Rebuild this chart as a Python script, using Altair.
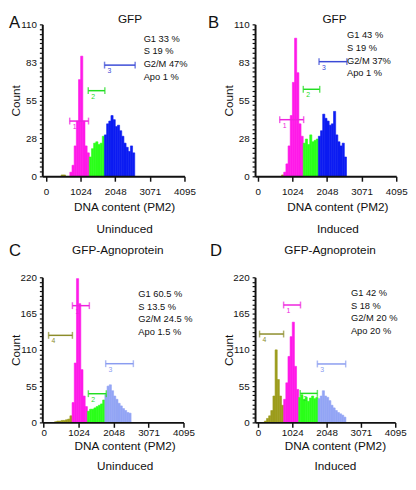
import altair as alt
import pandas as pd

BIN = 64
XMAX = 4095
X_TICKS = [0, 1024, 2048, 3071, 4095]
PHASES = ["Apo", "G1", "S", "G2/M"]

FONT = "Liberation Sans, Arial, Helvetica, sans-serif"
NARROW = "Liberation Sans Narrow, Liberation Sans, Arial, sans-serif"
INK = "#111111"

MAGENTA = "#ff1ae8"
GREEN = "#2bff1a"
BLUE = "#0c1cf2"
LAVENDER = "#93a5f5"
OLIVE = "#9c9c1c"

MK_MAGENTA = "#ee22dd"
MK_GREEN = "#22dd22"
MK_BLUE = "#3a4ad6"
MK_LAV = "#8a9cf0"
MK_OLIVE = "#8c8c2a"

# ---------------- Panel A : GFP, uninduced ----------------
A_APO_START, A_APO = 448, [1, 1]
A_G1_START, A_G1 = 704, [3, 8, 22, 40, 70, 87, 40, 22, 17]
A_S_START, A_S = 1280, [14, 20, 24, 25, 23, 24, 29]
A_G2_START, A_G2 = 1728, [30, 38, 40, 44, 41, 36, 37, 33, 29, 24, 21, 18, 22, 17]
A_STATS = ["G1 33 %", "S 19 %", "G2/M 47%", "Apo 1 %"]
A_MK_LABEL = ["1", "2", "3"]
A_MK_X1 = [700, 1249, 1731]
A_MK_X2 = [1257, 1740, 2636]
A_MK_Y = [40, 62, 80.5]
A_MK_COL = [MK_MAGENTA, MK_GREEN, MK_BLUE]

# ---------------- Panel B : GFP, induced ----------------
B_APO_START, B_APO = 704, [1]
B_G1_START, B_G1 = 768, [3, 9, 22, 44, 68, 100, 75, 38, 29]
B_S_START, B_S = 1344, [24, 27, 23, 30, 25, 26, 27]
B_G2_START, B_G2 = 1792, [29, 33, 45, 42, 40, 37, 38, 47, 30, 25, 22, 24, 14]
B_STATS = ["G1 43 %", "S 19 %", "G2/M 37%", "Apo 1 %"]
B_MK_LABEL = ["1", "2", "3"]
B_MK_X1 = [649, 1346, 1812]
B_MK_X2 = [1357, 1832, 2636]
B_MK_Y = [41, 63, 83]
B_MK_COL = [MK_MAGENTA, MK_GREEN, MK_BLUE]

# ---------------- Panel C : GFP-Agnoprotein, uninduced ----------------
C_APO_START, C_APO = 320, [1, 2, 2, 3, 3, 4, 5, 10]
C_G1_START, C_G1 = 832, [30, 90, 218, 180, 80, 40, 24]
C_S_START, C_S = 1280, [17, 20, 20, 22, 24, 26, 28, 34]
C_G2_START, C_G2 = 1792, [42, 55, 57, 48, 40, 35, 29, 25, 21, 18, 15, 14]
C_STATS = ["G1 60.5 %", "S 13.5 %", "G2/M 24.5 %", "Apo 1.5 %"]
C_MK_LABEL = ["4", "1", "2", "3"]
C_MK_X1 = [143, 842, 1309, 1816]
C_MK_X2 = [842, 1338, 1834, 2627]
C_MK_Y = [132, 177, 43.5, 89]
C_MK_COL = [MK_OLIVE, MK_MAGENTA, MK_GREEN, MK_LAV]

# ---------------- Panel D : GFP-Agnoprotein, induced ----------------
D_APO_START, D_APO = 192, [2, 6, 10, 18, 40, 110, 65, 40, 26]
D_G1_START, D_G1 = 768, [35, 60, 100, 130, 152, 85, 50]
D_S_START, D_S = 1216, [38, 42, 35, 38, 32, 37, 40, 36, 38]
D_G2_START, D_G2 = 1792, [36, 40, 48, 40, 38, 33, 26, 22, 18, 15, 13, 11, 8]
D_STATS = ["G1 42 %", "S 18 %", "G2/M 20 %", "Apo 20 %"]
D_MK_LABEL = ["4", "1", "2", "3"]
D_MK_X1 = [49, 766, 1261, 1773]
D_MK_X2 = [766, 1270, 1773, 2617]
D_MK_Y = [134, 178, 44, 88.6]
D_MK_COL = [MK_OLIVE, MK_MAGENTA, MK_GREEN, MK_LAV]

Y_MAJ_SMALL = [0, 27.5, 55, 82.5, 110]
Y_LAB_SMALL = ["0", "28", "55", "83", "110"]
Y_MAJ_BIG = [0, 55, 110, 165, 220]
Y_LAB_BIG = ["0", "55", "110", "165", "220"]


def make_panel(p):
    rows = []
    for phase, start, counts in p["hist"]:
        for i, c in enumerate(counts):
            rows.append({"x0": start + i * BIN, "x1": start + (i + 1) * BIN,
                         "count": c, "phase": phase})
    hist = pd.DataFrame(rows)
    xs = alt.Scale(domain=[p["xmin"], XMAX], nice=False, zero=False)
    ys = alt.Scale(domain=[0, p["ymax"]], nice=False, zero=True)

    majors = p["ymaj"]
    step = majors[1] / 8
    yvals = [i * step for i in range(int(round(p["ymax"] / step)) + 1)]
    label_expr = " : ".join(
        f"datum.value == {v} ? '{l}'" for v, l in zip(majors, p["ylab"])) + " : ''"

    yaxis = alt.Axis(
        values=yvals, labelExpr=label_expr, labelOverlap=False, grid=False,
        tickSize=3, tickWidth=1.2, tickColor=INK, domainColor=INK, domainWidth=2,
        labelFont=FONT, labelFontSize=10, labelColor=INK, labelPadding=3,
        title="Count", titleFont=FONT, titleFontSize=12, titleFontWeight="normal",
        titleColor=INK, titleX=-27, titleY=p["h"] / 2, titleBaseline="middle",
        titleAlign="center", titleAngle=270, zindex=1)
    xaxis = alt.Axis(
        values=X_TICKS, format="d", grid=False, tickSize=5, tickWidth=1.5,
        tickColor=INK, domainColor=INK, domainWidth=2, labelFont=FONT,
        labelFontSize=10, labelColor=INK, labelPadding=p["lpad"],
        labelOverlap=False, labelFlush=False,
        title=["DNA content (PM2)", p["sub"]], titleFont=FONT, titleFontSize=12,
        titleFontWeight="normal", titleColor=INK, titleLineHeight=p["tlh"],
        titleX=p["w"] / 2 + p["tdx"], titleY=p["ty"], titleBaseline="top",
        titleAlign="center", zindex=1)

    def X(field):
        return alt.X(field, type="quantitative", scale=xs, axis=xaxis)

    def Y(field):
        return alt.Y(field, type="quantitative", scale=ys, axis=yaxis)

    phase_scale = alt.Scale(domain=PHASES, range=p["colors"])
    bars = alt.Chart(hist).mark_rect(strokeWidth=0.6).encode(
        x=X("x0"),
        x2="x1:Q",
        y=Y("count"),
        y2=alt.datum(0),
        color=alt.Color("phase:N", scale=phase_scale, legend=None),
        stroke=alt.Stroke("phase:N", scale=phase_scale, legend=None),
    )

    mk = pd.DataFrame({"label": p["mk_label"], "x1": p["mk_x1"], "x2": p["mk_x2"],
                       "y": p["mk_y"], "col": p["mk_col"]})
    mbase = alt.Chart(mk)
    rule = mbase.mark_rule(strokeWidth=1.5).encode(
        x=X("x1"), x2="x2:Q", y=Y("y"),
        color=alt.Color("col:N", scale=None))
    cap1 = mbase.mark_tick(orient="vertical", size=7, thickness=1.5).encode(
        x=X("x1"), y=Y("y"), color=alt.Color("col:N", scale=None))
    cap2 = mbase.mark_tick(orient="vertical", size=7, thickness=1.5).encode(
        x=X("x2"), y=Y("y"), color=alt.Color("col:N", scale=None))
    labs = mbase.mark_text(fontSize=7, font=FONT, align="left", baseline="top",
                           dx=3, dy=2).encode(
        x=X("x1"), y=Y("y"), text="label:N", color=alt.Color("col:N", scale=None))

    st = alt.Chart(pd.DataFrame({"sx": [p["st_x"]], "sy": [p["st_y"]]})).mark_text(
        align="left", baseline="top", fontSize=9.5, font=NARROW, lineHeight=12.8,
        color=INK).encode(x=X("sx"), y=Y("sy"), text=alt.value(p["stats"]))

    dummy = pd.DataFrame({"d": [0]})
    letter = alt.Chart(dummy).mark_text(
        fontSize=17, font=FONT, align="left", baseline="alphabetic", color=INK).encode(
        x=alt.value(p["lx"]), y=alt.value(p["ly"]), text=alt.value(p["letter"]))
    title = alt.Chart(dummy).mark_text(
        fontSize=12, font=FONT, align="center", baseline="alphabetic", color=INK).encode(
        x=alt.value(p["w"] / 2 + p["tx"]), y=alt.value(p["tyt"]), text=alt.value(p["title"]))

    return alt.layer(bars, rule, cap1, cap2, labs, st, letter, title).properties(
        width=p["w"], height=p["h"])


COL_AB = [OLIVE, MAGENTA, GREEN, BLUE]
COL_CD = [OLIVE, MAGENTA, GREEN, LAVENDER]

pA = dict(hist=[("Apo", A_APO_START, A_APO), ("G1", A_G1_START, A_G1),
                ("S", A_S_START, A_S), ("G2/M", A_G2_START, A_G2)],
          xmin=-110, ymax=110, ymaj=Y_MAJ_SMALL, ylab=Y_LAB_SMALL, w=145, h=155,
          colors=COL_AB, sub="Uninduced", lpad=6, tdx=11, ty=26, tlh=22,
          mk_label=A_MK_LABEL, mk_x1=A_MK_X1, mk_x2=A_MK_X2, mk_y=A_MK_Y, mk_col=A_MK_COL,
          stats=A_STATS, st_x=2887, st_y=103,
          letter="A", lx=-34, ly=4, title="GFP", tx=17, tyt=-1)
pB = dict(hist=[("Apo", B_APO_START, B_APO), ("G1", B_G1_START, B_G1),
                ("S", B_S_START, B_S), ("G2/M", B_G2_START, B_G2)],
          xmin=-80, ymax=110, ymaj=Y_MAJ_SMALL, ylab=Y_LAB_SMALL, w=144, h=155,
          colors=COL_AB, sub="Induced", lpad=6, tdx=12, ty=26, tlh=22,
          mk_label=B_MK_LABEL, mk_x1=B_MK_X1, mk_x2=B_MK_X2, mk_y=B_MK_Y, mk_col=B_MK_COL,
          stats=B_STATS, st_x=2638, st_y=105.5,
          letter="B", lx=-48, ly=4, title="GFP", tx=9, tyt=-1)
pC = dict(hist=[("Apo", C_APO_START, C_APO), ("G1", C_G1_START, C_G1),
                ("S", C_S_START, C_S), ("G2/M", C_G2_START, C_G2)],
          xmin=-40, ymax=220, ymaj=Y_MAJ_BIG, ylab=Y_LAB_BIG, w=144, h=148,
          colors=COL_CD, sub="Uninduced", lpad=0, tdx=12, ty=19, tlh=20,
          mk_label=C_MK_LABEL, mk_x1=C_MK_X1, mk_x2=C_MK_X2, mk_y=C_MK_Y, mk_col=C_MK_COL,
          stats=C_STATS, st_x=2771, st_y=202,
          letter="C", lx=-34, ly=-22, title="GFP-Agnoprotein", tx=5, tyt=-24)
pD = dict(hist=[("Apo", D_APO_START, D_APO), ("G1", D_G1_START, D_G1),
                ("S", D_S_START, D_S), ("G2/M", D_G2_START, D_G2)],
          xmin=-85, ymax=220, ymaj=Y_MAJ_BIG, ylab=Y_LAB_BIG, w=143, h=148,
          colors=COL_CD, sub="Induced", lpad=0, tdx=10, ty=19, tlh=20,
          mk_label=D_MK_LABEL, mk_x1=D_MK_X1, mk_x2=D_MK_X2, mk_y=D_MK_Y, mk_col=D_MK_COL,
          stats=D_STATS, st_x=2773, st_y=203,
          letter="D", lx=-46, ly=-22, title="GFP-Agnoprotein", tx=5, tyt=-24)

chart = alt.concat(
    make_panel(pA), make_panel(pB), make_panel(pC), make_panel(pD),
    columns=2, spacing={"row": 103, "column": 72}, bounds="flush",
).resolve_scale(color="independent", stroke="independent").properties(
    padding={"left": 0, "top": 0, "right": 0, "bottom": 0},
    background="white",
).configure_view(stroke="transparent")

chart.save("out.html", embed_options={"renderer": "svg", "actions": False})
